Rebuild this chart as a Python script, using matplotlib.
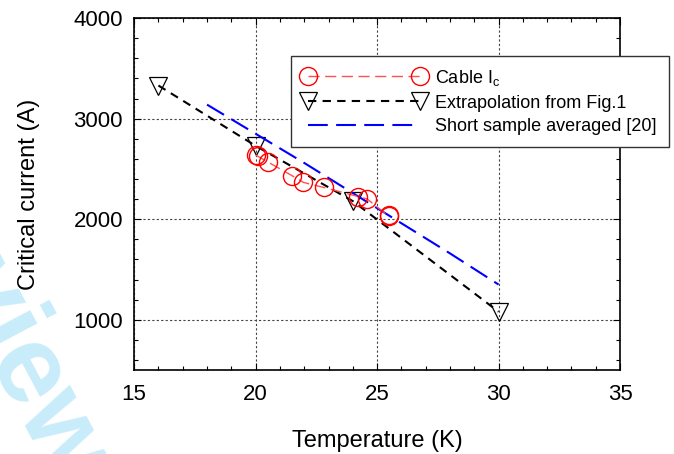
import matplotlib
matplotlib.use('Agg')
import matplotlib.pyplot as plt
from matplotlib.ticker import MultipleLocator

plt.rcParams['font.family'] = ['Liberation Sans', 'DejaVu Sans']
plt.rcParams['mathtext.default'] = 'regular'

# Cable Ic measurements
cable_T = [20.0, 20.1, 20.53, 21.5, 21.97, 22.8, 24.23, 24.6, 25.47, 25.5]
cable_Ic = [2640, 2625, 2566, 2433, 2366, 2316, 2225, 2200, 2030, 2045]

# Extrapolation from Fig.1
extr_T = [16, 20, 24, 30]
extr_Ic = [3330, 2730, 2180, 1080]

# Short sample averaged [20]
short_T = [18, 20, 22, 24, 26, 28, 30]
short_Ic = [3140, 2850, 2560, 2260, 1960, 1660, 1350]

fig = plt.figure(figsize=(6.74, 4.54), dpi=100)
ax = fig.add_axes([0.199, 0.185, 0.721, 0.775])
ax.patch.set_alpha(0)

# watermark
fig.text(0.085, -0.075, 'For Peer Review', color='#c9ecfb', fontsize=80,
         fontweight='bold', rotation=-62, rotation_mode='anchor',
         ha='right', va='baseline', zorder=-5)

ax.plot(cable_T, cable_Ic, color='#ff5050', lw=1.0, dashes=(8, 4),
        marker='o', ms=13, mfc='none', mec='red', mew=1.0,
        label='Cable I$_c$', zorder=4)
ax.plot(extr_T, extr_Ic, color='black', lw=1.5, dashes=(4, 3),
        marker='v', ms=13, mfc='none', mec='black', mew=0.9,
        label='Extrapolation from Fig.1', zorder=3)
ax.plot(short_T, short_Ic, color='#0000ff', lw=1.5, dashes=(9.5, 4),
        label='Short sample averaged [20]', zorder=3)

ax.set_xlim(15, 35)
ax.set_ylim(500, 4000)
ax.xaxis.set_major_locator(MultipleLocator(5))
ax.xaxis.set_minor_locator(MultipleLocator(1))
ax.set_yticks([1000, 2000, 3000, 4000])
ax.yaxis.set_minor_locator(MultipleLocator(200))
ax.tick_params(which='both', direction='in', top=True, right=True,
               labelsize=16, width=0.8)
ax.tick_params(which='major', length=5)
ax.tick_params(which='minor', length=3)
ax.tick_params(axis='x', pad=10)
ax.tick_params(axis='y', pad=8)
for s in ax.spines.values():
    s.set_linewidth(1.2)

ax.grid(True, which='major', color='#444444', lw=0.8, ls=(0, (2, 2)))

ax.set_xlabel('Temperature (K)', fontsize=17, labelpad=18)
ax.set_ylabel('Critical current (A)', fontsize=17, labelpad=24)

leg = ax.legend(loc='upper left', bbox_to_anchor=(291 / 674, 1 - 56 / 454),
                bbox_transform=fig.transFigure, borderaxespad=0,
                fontsize=13, handlelength=6.8, handletextpad=0.55,
                numpoints=2, labelspacing=0.38, borderpad=0.65,
                fancybox=False, framealpha=1)
leg.get_frame().set_edgecolor('#333333')
leg.get_frame().set_linewidth(1.0)

fig.savefig('out.png', dpi=100)
